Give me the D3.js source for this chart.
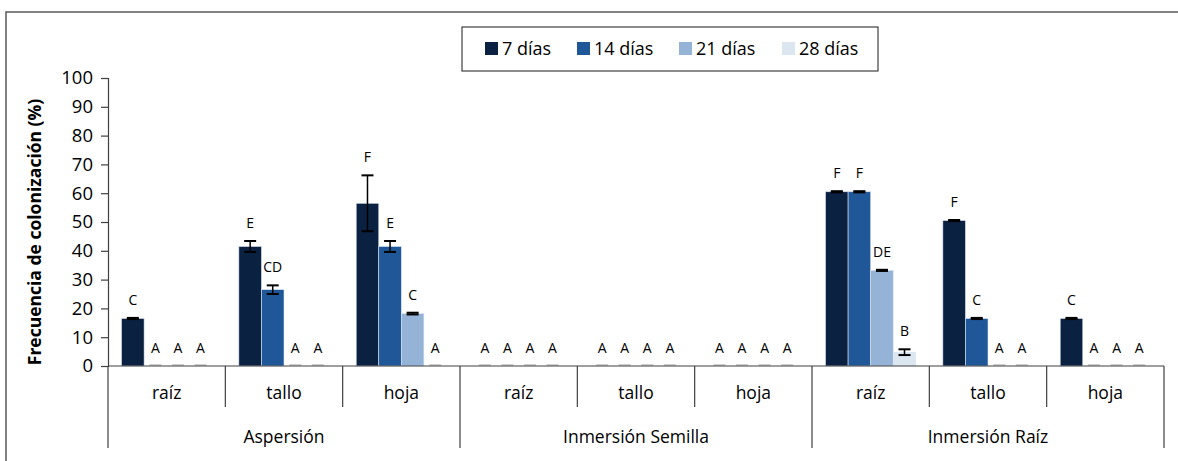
<!DOCTYPE html>
<meta charset="utf-8">

<style>
  body { margin: 0; background: #fff; }
  text { font-family: "Open Sans", "Noto Sans", sans-serif; fill: #000; }
</style>

<svg class="chart"></svg>

<script src="https://d3js.org/d3.v7.min.js"></script>
<script>

  var width  = 1178;
  var height = 461;

  var methods = ["Aspersión", "Inmersión Semilla", "Inmersión Raíz"];
  var organs  = ["raíz", "tallo", "hoja"];
  var series  = ["7 días", "14 días", "21 días", "28 días"];
  var colors  = ["#0b2142", "#1f5799", "#95b3d7", "#dce6f1"];

  // one value per method x organ, in order
  var days7  = [16.5, 41.5, 56.5, 0, 0, 0, 60.5, 50.5, 16.5];
  var days14 = [0, 26.5, 41.5, 0, 0, 0, 60.5, 16.5, 0];
  var days21 = [0, 0, 18.2, 0, 0, 0, 33.2, 0, 0];
  var days28 = [0, 0, 0, 0, 0, 0, 4.8, 0, 0];

  var err7  = [0.2, 1.9, 9.7, 0, 0, 0, 0.2, 0.2, 0.2];
  var err14 = [0, 1.5, 1.9, 0, 0, 0, 0.2, 0.2, 0];
  var err21 = [0, 0, 0.3, 0, 0, 0, 0.2, 0, 0];
  var err28 = [0, 0, 0, 0, 0, 0, 1.0, 0, 0];

  var let7  = ["C", "E", "F", "A", "A", "A", "F", "F", "C"];
  var let14 = ["A", "CD", "E", "A", "A", "A", "F", "C", "A"];
  var let21 = ["A", "A", "C", "A", "A", "A", "DE", "A", "A"];
  var let28 = ["A", "A", "A", "A", "A", "A", "B", "A", "A"];

  var yTicks = [0, 10, 20, 30, 40, 50, 60, 70, 80, 90, 100];

  var values  = [days7, days14, days21, days28];
  var errors  = [err7, err14, err21, err28];
  var letters = [let7, let14, let21, let28];

  var groups = [];
  methods.forEach(function(m) {
    organs.forEach(function(o) { groups.push(m + "|" + o); });
  });

  var bars = [];
  groups.forEach(function(g, i) {
    series.forEach(function(s, j) {
      bars.push({ group: g, series: s, idx: j, value: values[j][i], err: errors[j][i], letter: letters[j][i] });
    });
  });

  var chart = d3.select(".chart")
      .attr("width", width)
      .attr("height", height);

  chart.append("rect")
      .attr("x", 6).attr("y", 12)
      .attr("width", 1300).attr("height", 600)
      .attr("fill", "none")
      .attr("stroke", "#595959")
      .attr("stroke-width", 1.5);

  var x0 = d3.scaleBand().domain(groups).range([108, 1164]);
  var x1 = d3.scaleBand().domain(series).range([0, x0.bandwidth()]).paddingOuter(0.6);
  var y  = d3.scaleLinear().domain([0, 100]).range([366, 78]);

  // y axis
  var yAxis = chart.append("g")
      .attr("transform", "translate(108,0)")
      .call(d3.axisLeft(y).tickValues(yTicks).tickSize(7).tickPadding(8));
  yAxis.selectAll("path, line").attr("stroke", "#404040").attr("stroke-width", 1.2);
  yAxis.selectAll("text").style("font-size", "18.5px").attr("fill", "#000");

  chart.append("text")
      .attr("transform", "translate(41,232) rotate(-90)")
      .attr("text-anchor", "middle")
      .style("font-size", "17.5px")
      .style("font-weight", "bold")
      .text("Frecuencia de colonización (%)");

  // bars
  chart.append("g").selectAll("rect")
    .data(bars.filter(function(d) { return d.value > 0; }))
    .enter().append("rect")
      .attr("x", function(d) { return x0(d.group) + x1(d.series); })
      .attr("y", function(d) { return y(d.value); })
      .attr("width", x1.bandwidth())
      .attr("height", function(d) { return y(0) - y(d.value); })
      .attr("fill", function(d) { return colors[d.idx]; })
      .attr("stroke", "#dbe5f1")
      .attr("stroke-width", 0.6);

  // error bars
  var eb = chart.append("g").selectAll("g")
    .data(bars.filter(function(d) { return d.value > 0; }))
    .enter().append("g")
      .attr("transform", function(d) { return "translate(" + (x0(d.group) + x1(d.series) + x1.bandwidth() / 2) + ",0)"; });
  eb.append("line")
      .attr("y1", function(d) { return y(d.value + d.err); })
      .attr("y2", function(d) { return y(d.value - d.err); })
      .attr("stroke", "#000").attr("stroke-width", 1.5);
  eb.append("line")
      .attr("x1", -6).attr("x2", 6)
      .attr("y1", function(d) { return y(d.value + d.err); })
      .attr("y2", function(d) { return y(d.value + d.err); })
      .attr("stroke", "#000").attr("stroke-width", 2);
  eb.append("line")
      .attr("x1", -6).attr("x2", 6)
      .attr("y1", function(d) { return y(d.value - d.err); })
      .attr("y2", function(d) { return y(d.value - d.err); })
      .attr("stroke", "#000").attr("stroke-width", 2);

  // zero marks
  chart.append("g").selectAll("line")
    .data(bars.filter(function(d) { return d.value === 0; }))
    .enter().append("line")
      .attr("x1", function(d) { return x0(d.group) + x1(d.series) + x1.bandwidth() / 2 - 6; })
      .attr("x2", function(d) { return x0(d.group) + x1(d.series) + x1.bandwidth() / 2 + 6; })
      .attr("y1", y(0) - 1).attr("y2", y(0) - 1)
      .attr("stroke", "#bfbfbf").attr("stroke-width", 1.5);

  // letters
  chart.append("g").selectAll("text")
    .data(bars)
    .enter().append("text")
      .attr("x", function(d) { return x0(d.group) + x1(d.series) + x1.bandwidth() / 2; })
      .attr("y", function(d) { return y(d.value + d.err) - 13; })
      .attr("text-anchor", "middle")
      .style("font-size", "14px")
      .text(function(d) { return d.letter; });

  // x axis with two levels
  var axisG = chart.append("g");
  axisG.append("line")
      .attr("x1", 108).attr("x2", 1164)
      .attr("y1", y(0)).attr("y2", y(0))
      .attr("stroke", "#404040").attr("stroke-width", 1.2);

  var bounds = groups.map(function(g) { return x0(g); }).concat([1164]);
  axisG.selectAll("line.sep")
    .data(bounds)
    .enter().append("line")
      .attr("class", "sep")
      .attr("x1", function(d) { return d; })
      .attr("x2", function(d) { return d; })
      .attr("y1", y(0))
      .attr("y2", function(d, i) { return i % 3 === 0 ? 448 : 407; })
      .attr("stroke", "#404040").attr("stroke-width", 1.2);

  axisG.selectAll("text.organ")
    .data(groups)
    .enter().append("text")
      .attr("class", "organ")
      .attr("x", function(d) { return x0(d) + x0.bandwidth() / 2; })
      .attr("y", 399)
      .attr("text-anchor", "middle")
      .style("font-size", "17.5px")
      .text(function(d) { return d.split("|")[1]; });

  axisG.selectAll("text.method")
    .data(methods)
    .enter().append("text")
      .attr("class", "method")
      .attr("x", function(d) { return x0(d + "|tallo") + x0.bandwidth() / 2; })
      .attr("y", 443)
      .attr("text-anchor", "middle")
      .style("font-size", "17.5px")
      .text(function(d) { return d; });

  // legend
  var legend = chart.append("g");
  legend.append("rect")
      .attr("x", 462).attr("y", 27)
      .attr("width", 416).attr("height", 44)
      .attr("fill", "#fff")
      .attr("stroke", "#404040").attr("stroke-width", 1.2);

  var legendX = [485, 577, 679, 782];
  var item = legend.selectAll("g")
    .data(series)
    .enter().append("g")
      .attr("transform", function(d, i) { return "translate(" + legendX[i] + ",42)"; });
  item.append("rect")
      .attr("width", 13).attr("height", 13)
      .attr("fill", function(d, i) { return colors[i]; });
  item.append("text")
      .attr("x", 17).attr("y", 13)
      .style("font-size", "18px")
      .text(function(d) { return d; });

</script>
